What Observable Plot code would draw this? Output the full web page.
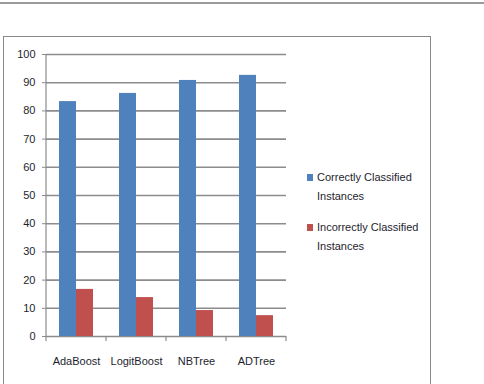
<!DOCTYPE html>
<html>
<head>
<meta charset="utf-8">
<script src="https://cdn.jsdelivr.net/npm/d3@7"></script>
<script src="https://cdn.jsdelivr.net/npm/@observablehq/plot@0.6"></script>
<style>
  html, body { margin: 0; padding: 0; background: #fff; width: 484px; height: 384px; overflow: hidden; }
  #wrap { position: relative; width: 484px; height: 384px; font-family: "Liberation Sans", Arial, sans-serif; }
  #topline { position: absolute; left: 0; top: 2px; width: 484px; height: 2px; background: #9a9a9a; }
  #box { position: absolute; left: 3px; top: 36px; width: 428px; height: 360px; border: 1px solid #8a8a8a; box-sizing: border-box; }
  #chart { position: absolute; left: 0; top: 0; }
  .legend { position: absolute; left: 307px; font-size: 11px; color: #1e1e2e; line-height: 19px; }
  .legend .sw { position: absolute; left: 0; top: 6px; width: 6px; height: 7px; }
  .legend .tx { position: absolute; left: 10px; top: 0; white-space: nowrap; }
</style>
</head>
<body>
<div id="wrap">
  <div id="topline"></div>
  <div id="box"></div>
  <div id="chart"></div>
  <div id="legend"></div>
</div>
<script>
const models = ["AdaBoost", "LogitBoost", "NBTree", "ADTree"];
const series = ["Correctly Classified Instances", "Incorrectly Classified Instances"];
const correct = [83.3, 86.2, 90.8, 92.6];
const incorrect = [16.7, 13.8, 9.2, 7.4];
const yTicks = [0, 10, 20, 30, 40, 50, 60, 70, 80, 90, 100];
const colors = ["#4F81BD", "#C0504D"];
const legendLines = [["Correctly Classified", "Instances"], ["Incorrectly Classified", "Instances"]];

const rows = [];
models.forEach((m, i) => {
  rows.push({model: m, series: series[0], value: correct[i]});
  rows.push({model: m, series: series[1], value: incorrect[i]});
});

const chart = Plot.plot({
  width: 484,
  height: 384,
  marginLeft: 44,
  marginRight: 197,
  marginTop: 54,
  marginBottom: 48,
  style: {fontFamily: "Liberation Sans, Arial, sans-serif", fontSize: "11px", color: "#1e1e2e", background: "transparent"},
  fx: {domain: models, padding: 0, label: null},
  x: {domain: series, paddingInner: 0, paddingOuter: 0.73, axis: null},
  y: {domain: [0, 100], label: null},
  color: {domain: series, range: colors},
  marks: [
    Plot.ruleY(yTicks, {stroke: "#8c8c8c", strokeWidth: 1.6}),
    Plot.barY(rows, {fx: "model", x: "series", y: "value", fill: "series"}),
    Plot.axisY(yTicks, {tickSize: 4, tickPadding: 7, stroke: "#8c8c8c", fill: "#1e1e2e", tickFormat: d => d}),
    Plot.axisFx({anchor: "bottom", tickSize: 0, tickPadding: 21, fill: "#1e1e2e", label: null})
  ]
});
document.getElementById("chart").appendChild(chart);

// axis lines and between-category tick marks drawn from the plot's scales
const fx = chart.scale("fx");
const y = chart.scale("y");
const svg = d3.select(chart);
const g = svg.append("g").attr("stroke", "#8c8c8c").attr("stroke-width", 1.2);
const x0 = fx.apply(models[0]);
const y0 = y.apply(0), y1 = y.apply(100);
g.append("line").attr("x1", x0).attr("x2", x0).attr("y1", y0 + 0.5).attr("y2", y1);
const bounds = models.map(m => fx.apply(m)).concat([fx.apply(models[models.length - 1]) + fx.bandwidth]);
bounds.forEach(b => g.append("line").attr("x1", b).attr("x2", b).attr("y1", y0).attr("y2", y0 + 5));

// legend
const lg = document.getElementById("legend");
const legendTops = [168, 218];
series.forEach((s, i) => {
  const d = document.createElement("div");
  d.className = "legend";
  d.style.top = legendTops[i] + "px";
  d.innerHTML = `<div class="sw" style="background:${colors[i]}"></div><div class="tx">${legendLines[i].join("<br>")}</div>`;
  lg.appendChild(d);
});
</script>
</body>
</html>
